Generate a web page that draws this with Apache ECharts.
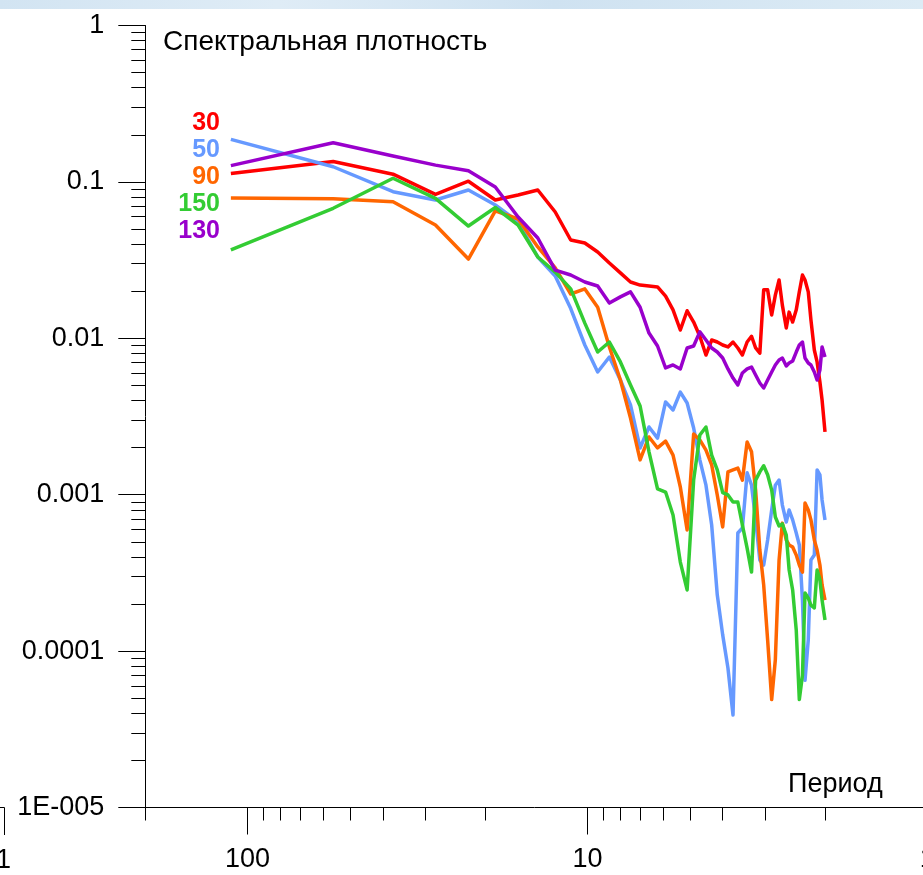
<!DOCTYPE html>
<html>
<head>
<meta charset="utf-8">
<script src="https://cdn.jsdelivr.net/npm/echarts@6/dist/echarts.min.js"></script>
<style>
  html, body { margin: 0; padding: 0; background: #ffffff; }
  #chart { width: 923px; height: 875px; }
</style>
</head>
<body>
<div id="chart"></div>
<script>
// Periods of the spectral estimates (harmonics of a 112-step record)
const periods = [
  112, 56, 37.33, 28, 22.4, 18.67, 16, 14, 12.44, 11.2,
  10.18, 9.33, 8.62, 8, 7.47, 7, 6.59, 6.22, 5.89, 5.6,
  5.33, 5.09, 4.87, 4.67, 4.48, 4.31, 4.15, 4, 3.86, 3.73,
  3.61, 3.5, 3.39, 3.29, 3.2, 3.11, 3.03, 2.95, 2.87, 2.8,
  2.73, 2.67, 2.6, 2.55, 2.49, 2.43, 2.38, 2.33, 2.29, 2.24,
  2.2, 2.15, 2.11, 2.07, 2.04, 2
];

// Spectral density for each depth
const s30 = [
  0.113, 0.135, 0.112, 0.0833, 0.101, 0.0766, 0.0824, 0.0888, 0.0642, 0.0425,
  0.0407, 0.0356, 0.0303, 0.0262, 0.0229, 0.0219, 0.0216, 0.0213, 0.0186, 0.0152,
  0.0113, 0.0150, 0.0127, 0.0103, 0.00782, 0.00975, 0.00947, 0.00906, 0.00880, 0.00947,
  0.00867, 0.00782, 0.00947, 0.0103, 0.00867, 0.00805, 0.0204, 0.0204, 0.0141, 0.0189,
  0.0236, 0.0163, 0.01164, 0.0147, 0.0127, 0.0152, 0.0198, 0.0254, 0.0236, 0.0198,
  0.0131, 0.00842, 0.00706, 0.00526, 0.00403, 0.00252
];
const s50 = [
  0.187, 0.125, 0.0866, 0.0766, 0.0888, 0.0712, 0.0557, 0.0331, 0.0250, 0.0155,
  0.00906, 0.00609, 0.00759, 0.00541, 0.00375, 0.00199, 0.00271, 0.00230, 0.00392, 0.00348,
  0.00453, 0.00386, 0.00267, 0.00167, 0.00115, 0.00064, 0.000229, 0.000127, 0.000078, 0.000039,
  0.000569, 0.000612, 0.00138, 0.00115, 0.00069, 0.000382, 0.000355, 0.000513, 0.000798, 0.00115,
  0.00124, 0.000859, 0.000669, 0.000798, 0.00069, 0.000569, 0.000477, 0.000212, 0.000065, 0.000118,
  0.000382, 0.000411, 0.00144, 0.00134, 0.000925, 0.00069
];
const s90 = [
  0.079, 0.078, 0.0747, 0.053, 0.0321, 0.0652, 0.0579, 0.0384, 0.0282, 0.0192,
  0.0207, 0.0158, 0.0088, 0.00541, 0.00309, 0.00167, 0.00234, 0.00199, 0.0022, 0.00179,
  0.00112, 0.000595, 0.00244, 0.00224, 0.00193, 0.00155, 0.000996, 0.000622, 0.0014, 0.00144,
  0.00148, 0.00124, 0.00217, 0.00188, 0.00107, 0.000443, 0.000265, 0.000118, 0.000049, 0.000088,
  0.000382, 0.000658, 0.000513, 0.000477, 0.000463, 0.000411, 0.000355, 0.00032, 0.000885, 0.000798,
  0.00069, 0.000513, 0.000443, 0.000355, 0.000265, 0.000212
];
const s150 = [
  0.0367, 0.0678, 0.1055, 0.0785, 0.0522, 0.0686, 0.053, 0.0331, 0.0265, 0.0207,
  0.0125, 0.00817, 0.00947, 0.00706, 0.00503, 0.00369, 0.00188, 0.00109, 0.00104, 0.000742,
  0.000371, 0.000246, 0.00124, 0.00241, 0.00271, 0.00179, 0.00144, 0.00103, 0.000996, 0.000898,
  0.000898, 0.00064, 0.000456, 0.00032, 0.00124, 0.0014, 0.00153, 0.00134, 0.00107, 0.00072,
  0.000631, 0.00065, 0.000552, 0.00033, 0.000246, 0.000136, 0.000049, 0.00007, 0.000235, 0.000218,
  0.000197, 0.000189, 0.00033, 0.000285, 0.000212, 0.000158
];
const s130 = [
  0.127, 0.178, 0.1465, 0.128, 0.118, 0.0928, 0.0597, 0.0438, 0.0273, 0.0254,
  0.0229, 0.0216, 0.0168, 0.0184, 0.0198, 0.0158, 0.0108, 0.00893, 0.00646, 0.00675,
  0.00637, 0.00867, 0.00893, 0.011, 0.00975, 0.00867, 0.00817, 0.00748, 0.00637, 0.00557,
  0.00503, 0.0060, 0.00637, 0.00655, 0.00582, 0.00518, 0.00481, 0.00541, 0.00609, 0.00675,
  0.00727, 0.00748, 0.00665, 0.00695, 0.00716, 0.00817, 0.00906, 0.00947, 0.00748, 0.00695,
  0.00675, 0.00609, 0.00541, 0.00627, 0.0088, 0.00759
];

// Series names, in legend order, and their colours
const seriesNames = ['30', '50', '90', '150', '130'];
const seriesValues = [s30, s50, s90, s150, s130];
const seriesColors = ['#ff0000', '#6699ff', '#ff6600', '#33cc33', '#9900cc'];

// Axis ticks and labels
const xTickValues = [100, 10, 1];
const xTickLabels = ['100', '10', '1'];
const xMinorTicks = [200, 90, 80, 70, 60, 50, 40, 30, 20, 9, 8, 7, 6, 5, 4, 3, 2];
const yTickValues = [1, 0.1, 0.01, 0.001, 0.0001, 0.00001];
const yTickLabels = ['1', '0.1', '0.01', '0.001', '0.0001', '1E-005'];
const yMinorTicks = [];
for (let e = -5; e < 0; e++) {
  for (let m = 2; m <= 9; m++) yMinorTicks.push(+(m * Math.pow(10, e)).toPrecision(3));
}

const titleText = 'Спектральная плотность';
const xName = 'Период';

const FONT = '"Liberation Sans", Arial, sans-serif';
const INK = '#000000';

function lookupLabel(values, labels) {
  return function (v) {
    for (let i = 0; i < values.length; i++) {
      if (Math.abs(Math.log10(v) - Math.log10(values[i])) < 1e-6) return labels[i];
    }
    return '';
  };
}

const axisX = {
  type: 'log', logBase: 10, min: 1, max: 200, inverse: true,
  gridIndex: 0, position: 'bottom', splitLine: { show: false }
};
const axisY = {
  type: 'log', logBase: 10, min: 0.00001, max: 1,
  gridIndex: 0, position: 'left', splitLine: { show: false }
};

const chart = echarts.init(document.getElementById('chart'), null, { renderer: 'canvas' });

const option = {
  backgroundColor: '#ffffff',
  animation: false,
  grid: {
    left: 145.3, right: -4.3, top: 25.5, bottom: 67.5,
    containLabel: false, outerBoundsMode: 'none'
  },
  xAxis: [
    Object.assign({}, axisX, {
      axisLine: { show: true, onZero: false, lineStyle: { color: INK, width: 1 } },
      axisTick: { show: true, inside: false, length: 27, customValues: xTickValues,
                  lineStyle: { color: INK, width: 1 } },
      axisLabel: { show: true, margin: 39, customValues: xTickValues,
                   formatter: lookupLabel(xTickValues, xTickLabels),
                   color: INK, fontSize: 27, fontFamily: FONT }
    }),
    Object.assign({}, axisX, {
      axisLine: { show: false, onZero: false },
      axisTick: { show: true, inside: false, length: 13, customValues: xMinorTicks,
                  lineStyle: { color: INK, width: 1 } },
      axisLabel: { show: false }
    })
  ],
  yAxis: [
    Object.assign({}, axisY, {
      axisLine: { show: true, onZero: false, lineStyle: { color: INK, width: 1 } },
      axisTick: { show: true, inside: false, length: 27, customValues: yTickValues,
                  lineStyle: { color: INK, width: 1 } },
      axisLabel: { show: true, margin: 41, customValues: yTickValues,
                   formatter: lookupLabel(yTickValues, yTickLabels),
                   color: INK, fontSize: 27, fontFamily: FONT }
    }),
    Object.assign({}, axisY, {
      axisLine: { show: false, onZero: false },
      axisTick: { show: true, inside: false, length: 14, customValues: yMinorTicks,
                  lineStyle: { color: INK, width: 1 } },
      axisLabel: { show: false }
    })
  ],
  series: seriesNames.map(function (name, i) {
    return {
      name: name,
      type: 'line',
      xAxisIndex: 0,
      yAxisIndex: 0,
      symbol: 'none',
      smooth: false,
      clip: false,
      z: 2 + i,
      lineStyle: { color: seriesColors[i], width: 3.5, join: 'round' },
      itemStyle: { color: seriesColors[i] },
      data: periods.map(function (p, k) { return [p, seriesValues[i][k]]; })
    };
  }),
  graphic: [
    // pale banner along the top edge
    {
      type: 'rect', silent: true, z: -1,
      shape: { x: 0, y: 0, width: 923, height: 9 },
      style: {
        fill: new echarts.graphic.LinearGradient(0, 0, 1, 0, [
          { offset: 0, color: '#d2e4f2' },
          { offset: 0.3, color: '#dfecf6' },
          { offset: 0.6, color: '#cfe2f1' },
          { offset: 1, color: '#dcebf5' }
        ])
      }
    },
    {
      type: 'text', x: 163, y: 42, silent: true,
      style: { text: titleText, fill: INK, font: '28px ' + FONT,
               align: 'left', verticalAlign: 'middle' }
    },
    {
      type: 'text', x: 788, y: 785, silent: true,
      style: { text: xName, fill: INK, font: '27px ' + FONT,
               align: 'left', verticalAlign: 'middle' }
    },
    // fragment of the neighbouring axis at the left edge
    {
      type: 'polyline', silent: true,
      shape: { points: [[0, 807.5], [4.5, 807.5], [4.5, 835]] },
      style: { stroke: INK, lineWidth: 1, fill: null }
    },
    {
      type: 'text', x: -4, y: 861, silent: true,
      style: { text: '1', fill: INK, font: '27px ' + FONT,
               align: 'left', verticalAlign: 'middle' }
    }
  ].concat(seriesNames.map(function (name, i) {
    return {
      type: 'text', x: 220, y: 123.5 + 27 * i, silent: true,
      style: { text: name, fill: seriesColors[i], font: 'bold 25px ' + FONT,
               align: 'right', verticalAlign: 'middle' }
    };
  }))
};

chart.setOption(option);
</script>
</body>
</html>
